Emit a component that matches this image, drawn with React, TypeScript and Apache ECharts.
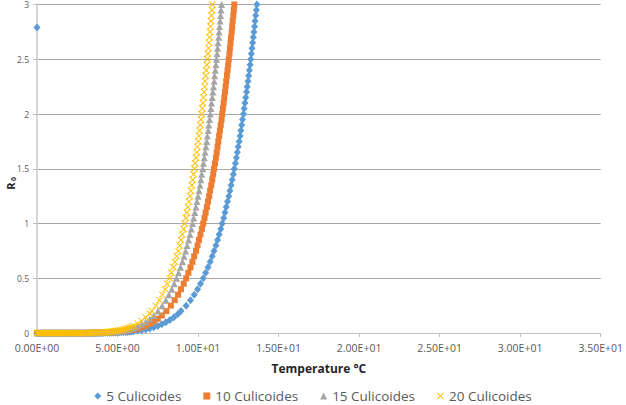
import React, { useEffect, useRef } from "react";
import * as echarts from "echarts";

const seriesNames = ["5 Culicoides", "10 Culicoides", "15 Culicoides", "20 Culicoides"];
const xTickLabels = ["0.00E+00", "5.00E+00", "1.00E+01", "1.50E+01", "2.00E+01", "2.50E+01", "3.00E+01", "3.50E+01"];
const yTickLabels = ["0", "0.5", "1", "1.5", "2", "2.5", "3"];

// Low, flat part of the curves: temperature grid and R0 read at each temperature
const flatTemps = [0, 0.125, 0.25, 0.375, 0.5, 0.625, 0.75, 0.875, 1, 1.125, 1.25, 1.375, 1.5, 1.625, 1.75, 1.875, 2, 2.125, 2.25, 2.375, 2.5, 2.625, 2.75, 2.875, 3, 3.125, 3.25, 3.375, 3.5, 3.625, 3.75, 3.875, 4, 4.125, 4.25, 4.375, 4.5, 4.625, 4.75, 4.875, 5, 5.125, 5.25, 5.375, 5.5, 5.625, 5.75, 5.875, 6, 6.25, 6.5, 6.75, 7, 7.25, 7.5, 7.75, 8, 8.25, 8.5, 8.75];
const blueFlat = [2.79, 0, 0, 0, 0, 0, 0, 0, 0, 0, 0, 0, 0, 0, 0, 0, 0, 0, 0, 0, 0, 0, 0, 0,
  0, 0, 0, 0, 0.001, 0.001, 0.001, 0.001, 0.001, 0.001, 0.002, 0.002, 0.002, 0.003, 0.003, 0.004, 0.005, 0.006, 0.007, 0.008, 0.009, 0.01, 0.012, 0.014,
  0.016, 0.02, 0.026, 0.033, 0.042, 0.052, 0.065, 0.08, 0.098, 0.119, 0.144, 0.174];
const orangeFlat = [0, 0, 0, 0, 0, 0, 0, 0, 0, 0, 0, 0, 0, 0, 0, 0, 0, 0, 0, 0, 0, 0, 0, 0,
  0, 0, 0.001, 0.001, 0.001, 0.001, 0.002, 0.002, 0.002, 0.003, 0.003, 0.004, 0.005, 0.006, 0.007, 0.008, 0.01, 0.011, 0.013, 0.015, 0.018, 0.021, 0.024, 0.027,
  0.031, 0.04, 0.052, 0.066, 0.083, 0.104, 0.13, 0.16];
const grayFlat = [0, 0, 0, 0, 0, 0, 0, 0, 0, 0, 0, 0, 0, 0, 0, 0, 0, 0, 0, 0, 0, 0, 0, 0,
  0.001, 0.001, 0.001, 0.001, 0.002, 0.002, 0.002, 0.003, 0.004, 0.004, 0.005, 0.006, 0.008, 0.009, 0.011, 0.013, 0.015, 0.017, 0.02, 0.024, 0.027, 0.032, 0.036, 0.042,
  0.048, 0.062, 0.079, 0.101, 0.128, 0.16];
const yellowFlat = [0, 0, 0, 0, 0, 0, 0, 0, 0, 0, 0, 0, 0, 0, 0, 0, 0, 0, 0, 0, 0, 0, 0, 0,
  0.001, 0.001, 0.001, 0.002, 0.002, 0.003, 0.003, 0.004, 0.005, 0.006, 0.007, 0.009, 0.011, 0.013, 0.015, 0.018, 0.021, 0.024, 0.028, 0.033, 0.038, 0.044, 0.05, 0.058,
  0.066, 0.086, 0.111, 0.141, 0.178];

// Steep part: R0 levels and the temperature read for each curve at each level
const steepR = [0.2, 0.25, 0.3, 0.35, 0.4, 0.45, 0.5, 0.55, 0.6, 0.65, 0.7, 0.75, 0.8, 0.85, 0.9, 0.95, 1, 1.05, 1.1, 1.15, 1.2, 1.25, 1.3, 1.35, 1.4, 1.45, 1.5, 1.55, 1.6, 1.65, 1.7, 1.75, 1.8, 1.85, 1.9, 1.95, 2, 2.05, 2.1, 2.15, 2.2, 2.25, 2.3, 2.35, 2.4, 2.45, 2.5, 2.55, 2.6, 2.65, 2.7, 2.75, 2.8, 2.85, 2.9, 2.95, 3];
const blueSteepT = [8.94, 9.26, 9.53, 9.76, 9.97, 10.15, 10.32, 10.47, 10.62, 10.75, 10.88, 10.99, 11.11, 11.21, 11.31, 11.41, 11.5, 11.59, 11.67, 11.75, 11.83, 11.91, 11.98, 12.05, 12.12, 12.19, 12.25, 12.32, 12.38, 12.44, 12.49, 12.55, 12.61, 12.66, 12.71, 12.76, 12.82, 12.86, 12.91, 12.96, 13.01, 13.05, 13.1, 13.14, 13.19, 13.23, 13.27, 13.31, 13.35, 13.39, 13.43, 13.47, 13.51, 13.54, 13.58, 13.62, 13.65];
const orangeSteepT = [8.03, 8.31, 8.55, 8.76, 8.94, 9.11, 9.26, 9.4, 9.53, 9.65, 9.76, 9.87, 9.97, 10.06, 10.15, 10.24, 10.32, 10.4, 10.47, 10.55, 10.62, 10.69, 10.75, 10.82, 10.88, 10.94, 10.99, 11.05, 11.11, 11.16, 11.21, 11.26, 11.31, 11.36, 11.41, 11.46, 11.5, 11.54, 11.59, 11.63, 11.67, 11.71, 11.75, 11.79, 11.83, 11.87, 11.91, 11.95, 11.98, 12.02, 12.05, 12.09, 12.12, 12.15, 12.19, 12.22, 12.25];
const graySteepT = [7.51, 7.77, 8.0, 8.19, 8.37, 8.52, 8.66, 8.79, 8.91, 9.03, 9.13, 9.23, 9.32, 9.41, 9.5, 9.58, 9.66, 9.73, 9.8, 9.87, 9.93, 10.0, 10.06, 10.12, 10.18, 10.23, 10.29, 10.34, 10.39, 10.44, 10.49, 10.54, 10.58, 10.63, 10.67, 10.72, 10.76, 10.8, 10.84, 10.88, 10.92, 10.96, 11.0, 11.03, 11.07, 11.11, 11.14, 11.18, 11.21, 11.24, 11.28, 11.31, 11.34, 11.37, 11.4, 11.43, 11.46];
const yellowSteepT = [7.13, 7.38, 7.6, 7.78, 7.95, 8.09, 8.23, 8.35, 8.47, 8.57, 8.67, 8.77, 8.86, 8.94, 9.02, 9.1, 9.17, 9.24, 9.31, 9.37, 9.44, 9.5, 9.55, 9.61, 9.67, 9.72, 9.77, 9.82, 9.87, 9.92, 9.96, 10.01, 10.05, 10.1, 10.14, 10.18, 10.22, 10.26, 10.3, 10.34, 10.37, 10.41, 10.44, 10.48, 10.51, 10.55, 10.58, 10.61, 10.65, 10.68, 10.71, 10.74, 10.77, 10.8, 10.83, 10.86, 10.89];

const colors = ["#5B9BD5", "#ED7D31", "#A5A5A5", "#FFC000"];
const xMarker = "path://M0,1 L1,0 L5,4 L9,0 L10,1 L6,5 L10,9 L9,10 L5,6 L1,10 L0,9 L4,5 Z";

function buildPoints(flat: number[], steepT: number[]) {
  const pts: number[][] = [];
  flat.forEach((r, i) => pts.push([flatTemps[i], r]));
  steepT.forEach((t, i) => pts.push([t, steepR[i]]));
  return pts;
}

export default function App() {
  const ref = useRef<HTMLDivElement>(null);
  useEffect(() => {
    if (!ref.current) return;
    const chart = echarts.init(ref.current, undefined, { renderer: "svg" });
    const font = "Open Sans";
    const data = [
      buildPoints(blueFlat, blueSteepT),
      buildPoints(orangeFlat, orangeSteepT),
      buildPoints(grayFlat, graySteepT),
      buildPoints(yellowFlat, yellowSteepT),
    ];
    const symbols = ["diamond", "rect", "triangle", xMarker];
    const sizes = [[7, 8], 6, 7, 7];
    const gridLeft = 37;
    const gridBottom = 72;
    chart.setOption({
      animation: false,
      backgroundColor: "#ffffff",
      grid: { left: gridLeft, right: 24, top: 3, bottom: gridBottom, containLabel: false },
      xAxis: {
        type: "value",
        min: 0,
        max: 35,
        interval: 5,
        axisLine: { show: true, lineStyle: { color: "#bfbfbf", width: 1 } },
        axisTick: { show: true, length: 4, lineStyle: { color: "#bfbfbf" } },
        splitLine: { show: false },
        axisLabel: {
          fontSize: 10.5,
          fontFamily: font,
          color: "#595959",
          margin: 9,
          // the first label is drawn as a graphic text below, centred on its tick
          formatter: (v: number) => (v === 0 ? "" : xTickLabels[Math.round(v / 5)] ?? ""),
        },
        name: "Temperature °C",
        nameLocation: "middle",
        nameGap: 29,
        nameTextStyle: { fontSize: 12, fontWeight: "bold", fontFamily: font, color: "#262626" },
      },
      yAxis: {
        type: "value",
        min: 0,
        max: 3,
        interval: 0.5,
        axisLine: { show: true, lineStyle: { color: "#c8c8c8", width: 1.5 } },
        axisTick: { show: true, length: 4, lineStyle: { color: "#bfbfbf" } },
        splitLine: { show: true, lineStyle: { color: "#a6a6a6", width: 1 } },
        axisLabel: {
          fontSize: 8.5,
          fontFamily: font,
          color: "#595959",
          margin: 8,
          formatter: (v: number) => yTickLabels[Math.round(v / 0.5)] ?? "",
        },
      },
      legend: {
        data: seriesNames,
        left: "center",
        top: 384,
        itemGap: 22,
        itemWidth: 7,
        itemHeight: 7,
        textStyle: { fontSize: 13.5, fontFamily: font, color: "#595959" },
      },
      graphic: [
        {
          type: "text",
          x: gridLeft,
          y: 405 - gridBottom + 9,
          style: { text: xTickLabels[0], font: "10.5px 'Open Sans'", fill: "#595959", align: "center", verticalAlign: "top" },
        },
        {
          type: "text",
          x: 10,
          y: 186,
          rotation: Math.PI / 2,
          style: { text: "R", font: "bold 11px 'Open Sans'", fill: "#262626", align: "center", verticalAlign: "middle" },
        },
        {
          type: "text",
          x: 13,
          y: 179,
          rotation: Math.PI / 2,
          style: { text: "0", font: "bold 7px 'Open Sans'", fill: "#262626", align: "center", verticalAlign: "middle" },
        },
      ],
      series: data.map((d, i) => ({
        name: seriesNames[i],
        type: "scatter",
        data: d,
        symbol: symbols[i],
        symbolSize: sizes[i],
        clip: true,
        itemStyle: { color: colors[i], opacity: 1 },
        emphasis: { disabled: true },
      })),
    });
    return () => chart.dispose();
  }, []);
  return <div ref={ref} style={{ position: "absolute", left: 0, top: 0, width: 626, height: 405 }} />;
}
